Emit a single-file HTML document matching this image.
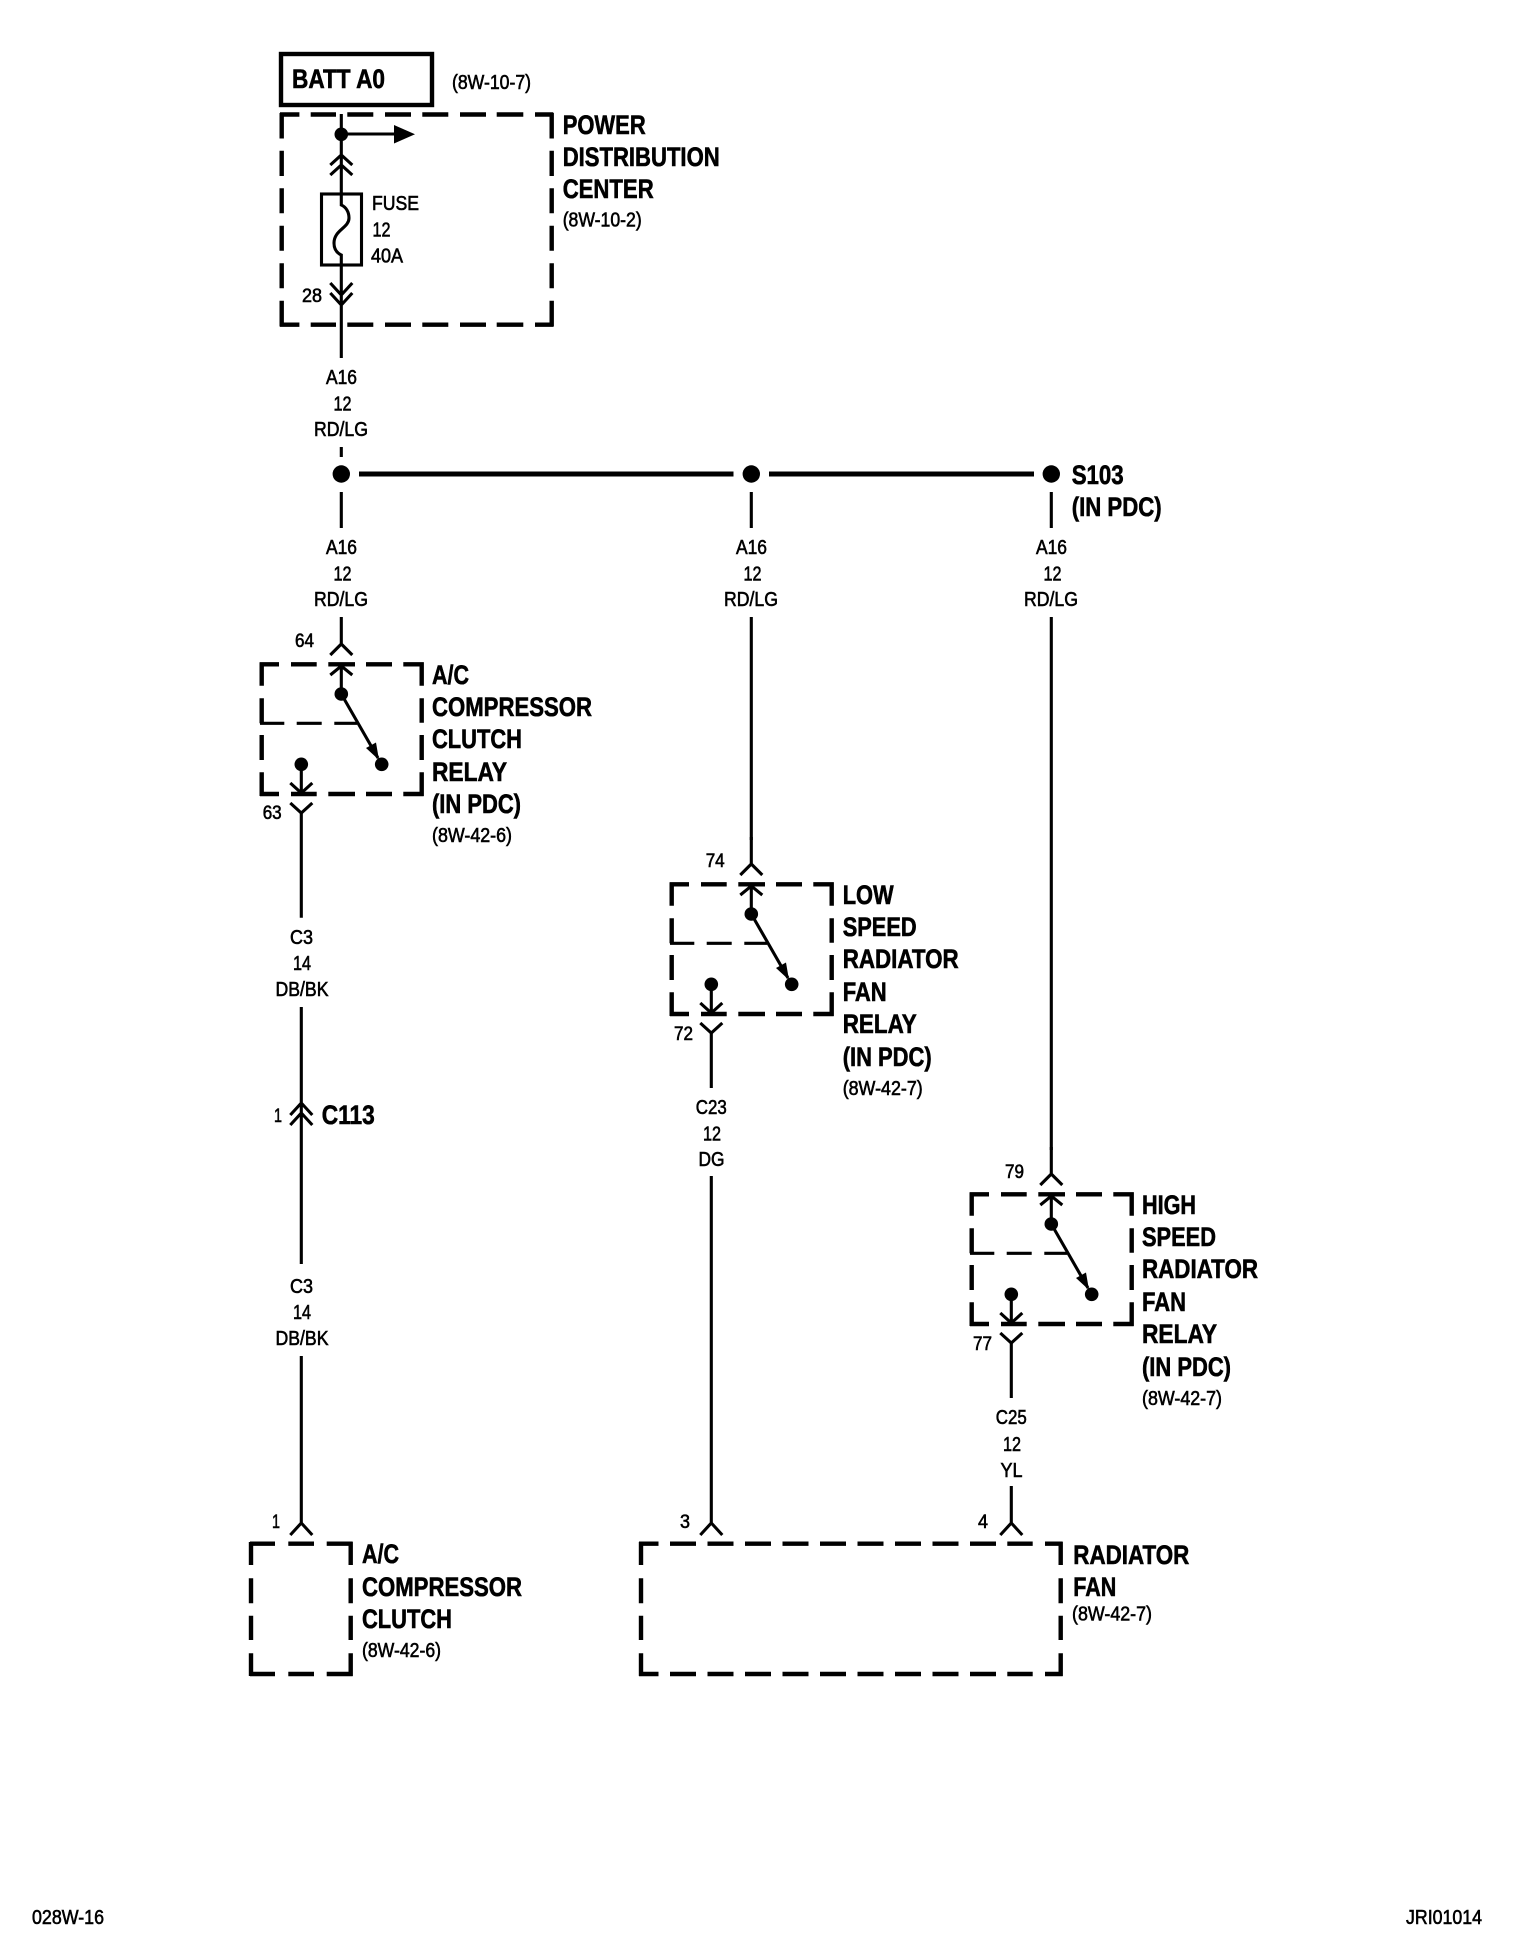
<!DOCTYPE html>
<html>
<head>
<meta charset="utf-8">
<style>
html,body{margin:0;padding:0;background:#fff;}
svg{display:block;}
text{font-family:"Liberation Sans",sans-serif;fill:#000;}
.t{font-size:27px;font-weight:700;stroke:#000;stroke-width:.6px;}
.r{font-size:20px;stroke:#000;stroke-width:.6px;}
.n{font-size:19px;stroke:#000;stroke-width:.6px;}
.w{fill:none;stroke:#000;stroke-width:3.1;}
.d{fill:none;stroke:#000;stroke-width:4.4;}
</style>
</head>
<body>
<svg width="1520" height="1952" viewBox="0 0 1520 1952" xmlns="http://www.w3.org/2000/svg">
<defs>
<g id="relay">
  <path class="d" d="M260 664.3H279M291 664.3H316.7M328.3 664.3H355M366 664.3H392M403.3 664.3H423.7M260 794H279M291 794H316.7M328.3 794H355M366 794H392M403.3 794H423.7M261.7 662.3V685.7M261.7 698.3V723.3M261.7 735V760M261.7 772.3V796M421.7 662.3V685.7M421.7 698.3V722.7M421.7 735V760M421.7 772.3V796"/>
  <path class="w" d="M260 723.3H284.3M296.7 723.3H321.7M334.3 723.3H357"/>
  <path class="w" d="M341.3 617V644M330.3 655L341.3 644L352.3 655M341.3 664V694M330.3 675L341.3 666L352.3 675M341.3 694L378 758"/>
  <circle cx="341.3" cy="694" r="6.8"/>
  <circle cx="381.7" cy="764.3" r="6.8"/>
  <polygon points="379,760 376,742.5 366,748"/>
  <circle cx="301.3" cy="764.3" r="6.8"/>
  <path class="w" d="M301.3 764V793M290.3 783L301.3 793L312.3 783M290.3 803L301.3 813L312.3 803"/>
</g>
</defs>

<!-- BATT / PDC -->
<rect x="281" y="54" width="151" height="51" fill="none" stroke="#000" stroke-width="4.4"/>
<text class="t" x="292" y="88" textLength="93" lengthAdjust="spacingAndGlyphs">BATT A0</text>
<text class="r" x="452" y="89" textLength="79" lengthAdjust="spacingAndGlyphs">(8W-10-7)</text>
<path class="d" d="M280 114.5H299.4M310.7 114.5H336M347.3 114.5H373.3M385 114.5H411M422.3 114.5H448.3M460 114.5H486M496.7 114.5H523.3M535 114.5H553.3M280 324.7H299.4M310.7 324.7H336M347.3 324.7H373.3M385 324.7H411M422.3 324.7H448.3M460 324.7H486M496.7 324.7H523.3M535 324.7H553.3M281.7 113V138.5M281.7 150.7V176M281.7 188.3V213.3M281.7 225.7V250.7M281.7 263.3V288.3M281.7 300.7V326.5M551.7 113V138.5M551.7 150.7V176M551.7 188.3V213.3M551.7 225.7V250.7M551.7 263.3V288.3M551.7 300.7V326.5"/>
<path class="w" d="M341.3 114V205C346 207 349 212 349 218C349 228 334 230 334 243C334 249 337 253 341.3 255V358M330.3 165L341.3 155L352.3 165M330.3 175L341.3 165L352.3 175M330.3 283L341.3 295L352.3 283M330.3 293L341.3 305L352.3 293M341.3 134H395M341.3 447V457"/>
<circle cx="341.3" cy="134.3" r="6.8"/>
<polygon points="394,125 415,134.3 394,143.5"/>
<rect x="321.5" y="194" width="40" height="71" fill="none" stroke="#000" stroke-width="3.1"/>
<text class="r" x="372" y="210" textLength="47" lengthAdjust="spacingAndGlyphs">FUSE</text>
<text class="r" x="372.5" y="236.7" textLength="18" lengthAdjust="spacingAndGlyphs">12</text>
<text class="r" x="371" y="262.7" textLength="32" lengthAdjust="spacingAndGlyphs">40A</text>
<text class="n" x="302" y="302" textLength="20" lengthAdjust="spacingAndGlyphs">28</text>
<text class="t" x="562.7" y="134" textLength="83" lengthAdjust="spacingAndGlyphs">POWER</text>
<text class="t" x="562.7" y="166" textLength="157" lengthAdjust="spacingAndGlyphs">DISTRIBUTION</text>
<text class="t" x="562.7" y="198" textLength="91" lengthAdjust="spacingAndGlyphs">CENTER</text>
<text class="r" x="562.7" y="226.7" textLength="79" lengthAdjust="spacingAndGlyphs">(8W-10-2)</text>

<text class="r" x="326" y="384" textLength="31" lengthAdjust="spacingAndGlyphs">A16</text>
<text class="r" x="333.5" y="410.7" textLength="18" lengthAdjust="spacingAndGlyphs">12</text>
<text class="r" x="314" y="436" textLength="54" lengthAdjust="spacingAndGlyphs">RD/LG</text>

<!-- Bus -->
<circle cx="341.3" cy="474" r="8.7"/>
<circle cx="751.3" cy="474" r="8.7"/>
<circle cx="1051.3" cy="474" r="8.7"/>
<path fill="none" stroke="#000" stroke-width="5" d="M359 474H733.5M769 474H1034"/>
<path class="w" d="M341.3 492V528M751.3 492V528M1051.3 492V528"/>
<text class="t" x="1071.7" y="484" textLength="52" lengthAdjust="spacingAndGlyphs">S103</text>
<text class="t" x="1071.7" y="516" textLength="90" lengthAdjust="spacingAndGlyphs">(IN PDC)</text>

<text class="r" x="326" y="554" textLength="31" lengthAdjust="spacingAndGlyphs">A16</text>
<text class="r" x="333.5" y="580.7" textLength="18" lengthAdjust="spacingAndGlyphs">12</text>
<text class="r" x="314" y="606" textLength="54" lengthAdjust="spacingAndGlyphs">RD/LG</text>
<text class="r" x="736" y="554" textLength="31" lengthAdjust="spacingAndGlyphs">A16</text>
<text class="r" x="743.5" y="580.7" textLength="18" lengthAdjust="spacingAndGlyphs">12</text>
<text class="r" x="724" y="606" textLength="54" lengthAdjust="spacingAndGlyphs">RD/LG</text>
<text class="r" x="1036" y="554" textLength="31" lengthAdjust="spacingAndGlyphs">A16</text>
<text class="r" x="1043.5" y="580.7" textLength="18" lengthAdjust="spacingAndGlyphs">12</text>
<text class="r" x="1024" y="606" textLength="54" lengthAdjust="spacingAndGlyphs">RD/LG</text>

<!-- Relays -->
<use href="#relay"/>
<use href="#relay" transform="translate(410 220)"/>
<use href="#relay" transform="translate(710 530)"/>
<path class="w" d="M751.3 617V840M1051.3 617V1150M301.3 813V917.7M711.3 1033V1088M1011.3 1343V1398"/>

<!-- Relay 1 labels -->
<text class="n" x="295" y="647" textLength="19" lengthAdjust="spacingAndGlyphs">64</text>
<text class="n" x="262.7" y="819" textLength="19" lengthAdjust="spacingAndGlyphs">63</text>
<text class="t" x="432" y="684" textLength="37" lengthAdjust="spacingAndGlyphs">A/C</text>
<text class="t" x="432" y="716" textLength="160" lengthAdjust="spacingAndGlyphs">COMPRESSOR</text>
<text class="t" x="432" y="748" textLength="90" lengthAdjust="spacingAndGlyphs">CLUTCH</text>
<text class="t" x="432" y="781" textLength="75" lengthAdjust="spacingAndGlyphs">RELAY</text>
<text class="t" x="432" y="813" textLength="89" lengthAdjust="spacingAndGlyphs">(IN PDC)</text>
<text class="r" x="432" y="842" textLength="80" lengthAdjust="spacingAndGlyphs">(8W-42-6)</text>

<!-- Relay 2 labels -->
<text class="n" x="705.7" y="867" textLength="19" lengthAdjust="spacingAndGlyphs">74</text>
<text class="n" x="674" y="1040" textLength="19" lengthAdjust="spacingAndGlyphs">72</text>
<text class="t" x="842.7" y="904" textLength="51" lengthAdjust="spacingAndGlyphs">LOW</text>
<text class="t" x="842.7" y="936" textLength="74" lengthAdjust="spacingAndGlyphs">SPEED</text>
<text class="t" x="842.7" y="968" textLength="116" lengthAdjust="spacingAndGlyphs">RADIATOR</text>
<text class="t" x="842.7" y="1001" textLength="44" lengthAdjust="spacingAndGlyphs">FAN</text>
<text class="t" x="842.7" y="1033" textLength="74" lengthAdjust="spacingAndGlyphs">RELAY</text>
<text class="t" x="842.7" y="1066" textLength="89" lengthAdjust="spacingAndGlyphs">(IN PDC)</text>
<text class="r" x="842.7" y="1095" textLength="80" lengthAdjust="spacingAndGlyphs">(8W-42-7)</text>

<!-- Relay 3 labels -->
<text class="n" x="1005" y="1178" textLength="19" lengthAdjust="spacingAndGlyphs">79</text>
<text class="n" x="973" y="1350" textLength="19" lengthAdjust="spacingAndGlyphs">77</text>
<text class="t" x="1142" y="1214" textLength="54" lengthAdjust="spacingAndGlyphs">HIGH</text>
<text class="t" x="1142" y="1246" textLength="74" lengthAdjust="spacingAndGlyphs">SPEED</text>
<text class="t" x="1142" y="1278" textLength="116" lengthAdjust="spacingAndGlyphs">RADIATOR</text>
<text class="t" x="1142" y="1311" textLength="44" lengthAdjust="spacingAndGlyphs">FAN</text>
<text class="t" x="1142" y="1343" textLength="75" lengthAdjust="spacingAndGlyphs">RELAY</text>
<text class="t" x="1142" y="1376" textLength="89" lengthAdjust="spacingAndGlyphs">(IN PDC)</text>
<text class="r" x="1142" y="1405" textLength="80" lengthAdjust="spacingAndGlyphs">(8W-42-7)</text>

<!-- Wire labels, lower -->
<text class="r" x="290" y="944" textLength="23" lengthAdjust="spacingAndGlyphs">C3</text>
<text class="r" x="293" y="970" textLength="18" lengthAdjust="spacingAndGlyphs">14</text>
<text class="r" x="275.5" y="996" textLength="53" lengthAdjust="spacingAndGlyphs">DB/BK</text>
<path class="w" d="M301.3 1007V1264M290.3 1115L301.3 1103L312.3 1115M290.3 1125L301.3 1113L312.3 1125"/>
<text class="n" x="274" y="1122" textLength="8" lengthAdjust="spacingAndGlyphs">1</text>
<text class="t" x="321.7" y="1124" textLength="53" lengthAdjust="spacingAndGlyphs">C113</text>
<text class="r" x="290" y="1293" textLength="23" lengthAdjust="spacingAndGlyphs">C3</text>
<text class="r" x="293" y="1319" textLength="18" lengthAdjust="spacingAndGlyphs">14</text>
<text class="r" x="275.5" y="1345" textLength="53" lengthAdjust="spacingAndGlyphs">DB/BK</text>
<path class="w" d="M301.3 1356V1523M290.3 1535L301.3 1523L312.3 1535"/>

<text class="r" x="695.8" y="1114" textLength="31" lengthAdjust="spacingAndGlyphs">C23</text>
<text class="r" x="703" y="1140.7" textLength="18" lengthAdjust="spacingAndGlyphs">12</text>
<text class="r" x="698.5" y="1166" textLength="26" lengthAdjust="spacingAndGlyphs">DG</text>
<path class="w" d="M711.3 1176V1523M700.3 1535L711.3 1523L722.3 1535"/>

<text class="r" x="995.8" y="1424" textLength="31" lengthAdjust="spacingAndGlyphs">C25</text>
<text class="r" x="1003" y="1451" textLength="18" lengthAdjust="spacingAndGlyphs">12</text>
<text class="r" x="1000.5" y="1477" textLength="22" lengthAdjust="spacingAndGlyphs">YL</text>
<path class="w" d="M1011.3 1486V1523M1000.3 1535L1011.3 1523L1022.3 1535"/>

<text class="n" x="272" y="1528" textLength="8" lengthAdjust="spacingAndGlyphs">1</text>
<text class="n" x="680" y="1528" textLength="10" lengthAdjust="spacingAndGlyphs">3</text>
<text class="n" x="978" y="1528" textLength="10" lengthAdjust="spacingAndGlyphs">4</text>

<!-- Compressor clutch -->
<path class="d" d="M250 1543.7H275M288.3 1543.7H314M326.7 1543.7H352.7M250 1674H275M288.3 1674H314M326.7 1674H352.7M251 1542V1565M251 1578.3V1603.3M251 1615.7V1640M251 1653.3V1676M350.7 1542V1565M350.7 1578.3V1603.3M350.7 1615.7V1640M350.7 1653.3V1676"/>
<text class="t" x="362" y="1563" textLength="37" lengthAdjust="spacingAndGlyphs">A/C</text>
<text class="t" x="362" y="1596" textLength="160" lengthAdjust="spacingAndGlyphs">COMPRESSOR</text>
<text class="t" x="362" y="1628" textLength="90" lengthAdjust="spacingAndGlyphs">CLUTCH</text>
<text class="r" x="362" y="1657" textLength="79" lengthAdjust="spacingAndGlyphs">(8W-42-6)</text>

<!-- Radiator fan -->
<path class="d" d="M639 1543.7H658.5M670 1543.7H696M707.5 1543.7H733.5M745 1543.7H771M782.5 1543.7H808.5M820 1543.7H846M857.5 1543.7H883.5M895 1543.7H921M932.5 1543.7H958.5M970 1543.7H996M1007.3 1543.7H1032.7M1045 1543.7H1062.7M639 1674H658.5M670 1674H696M707.5 1674H733.5M745 1674H771M782.5 1674H808.5M820 1674H846M857.5 1674H883.5M895 1674H921M932.5 1674H958.5M970 1674H996M1007.3 1674H1032.7M1045 1674H1062.7M641 1542V1565M641 1578.3V1603.3M641 1615.7V1640M641 1653.3V1676M1060.7 1542V1565M1060.7 1578.3V1603.3M1060.7 1615.7V1640M1060.7 1653.3V1676"/>
<text class="t" x="1073.3" y="1564" textLength="116" lengthAdjust="spacingAndGlyphs">RADIATOR</text>
<text class="t" x="1073.3" y="1596" textLength="43" lengthAdjust="spacingAndGlyphs">FAN</text>
<text class="r" x="1072" y="1620.7" textLength="80" lengthAdjust="spacingAndGlyphs">(8W-42-7)</text>

<!-- Footer -->
<text class="r" x="32" y="1924" textLength="72" lengthAdjust="spacingAndGlyphs">028W-16</text>
<text class="r" x="1406" y="1924" textLength="76" lengthAdjust="spacingAndGlyphs">JRI01014</text>
</svg>
</body>
</html>
